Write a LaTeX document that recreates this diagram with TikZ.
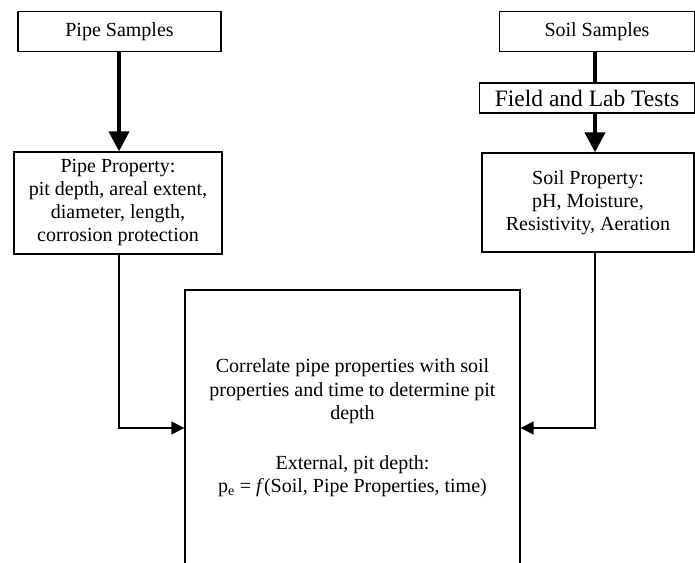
\documentclass[tikz,border=0pt]{standalone}
\usepackage{fontspec}
\setmainfont{Liberation Serif}
\usetikzlibrary{arrows.meta,calc}
\begin{document}
\begin{tikzpicture}[x=1pt,y=-1pt,
  box/.style={draw,line width=1.3pt,align=center,inner sep=1pt,
    font=\fontsize{20}{23}\selectfont},
  heavy/.style={line width=4pt,-{Triangle[length=20pt,width=20pt]}},
  heavyline/.style={line width=4pt},
  thin/.style={line width=1.3pt,-{Triangle[length=13pt,width=13pt]}}]
\useasboundingbox (0,0) rectangle (695,562);
\clip (0,0) rectangle (695,562);

% left column: pipe
\node[box,minimum width=203pt,minimum height=40pt] (psamp) at (119.5,31.5) {Pipe Samples};
\node[box,minimum width=208pt,minimum height=102pt] (pprop) at (118,203)
  {Pipe Property:\\pit depth, areal extent,\\diameter, length,\\corrosion protection};

% right column: soil
\node[box,minimum width=195pt,minimum height=40pt] (ssamp) at (597,31.5) {Soil Samples};
\node[box,minimum width=215pt,minimum height=30pt,font=\fontsize{23.5}{26}\selectfont] (field) at (587,98) {Field and Lab Tests};
\node[box,minimum width=212pt,minimum height=99pt] (sprop) at (588,202.5)
  {Soil Property:\\pH, Moisture,\\Resistivity, Aeration};

% central correlation box (runs off the bottom edge)
\node[box,minimum width=335pt,minimum height=276pt,font=\fontsize{20}{23.5}\selectfont] (corr) at (352.5,428)
  {Correlate pipe properties with soil\\properties and time to determine pit\\depth\\[26pt]
   External, pit depth:\\p\textsubscript{e} = \textit{f}(Soil, Pipe Properties, time)};

\coordinate (lx) at (119,0);
\coordinate (rx) at (595,0);

% connectors
\draw[heavy] (psamp.south -| lx) -- (pprop.north -| lx);
\draw[heavyline] (ssamp.south -| rx) -- (field.north -| rx);
\draw[heavy] (field.south -| rx) -- (sprop.north -| rx);
\draw[thin] (pprop.south -| lx) |- (corr.west);
\draw[thin] (sprop.south -| rx) |- (corr.east);
\end{tikzpicture}
\end{document}
